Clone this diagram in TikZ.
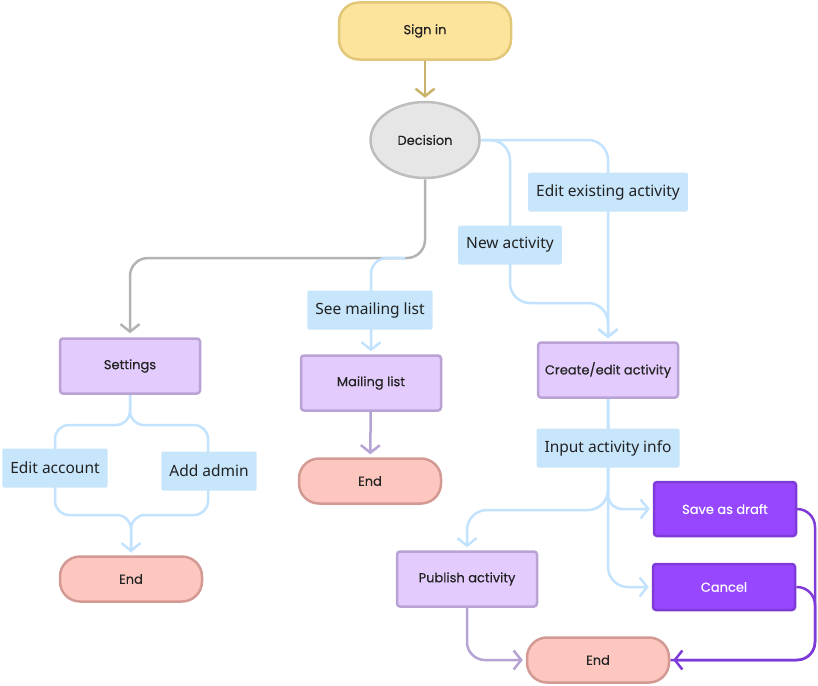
\documentclass[tikz,border=0pt]{standalone}
\usepackage{fontspec}
\setmainfont{Poppins}[FakeBold=0.35]
\newfontfamily\lblfont{Noto Sans}
\usetikzlibrary{arrows.meta,backgrounds,shapes.geometric}

\begin{document}
\begin{tikzpicture}[x=1pt,y=-1pt,>={Straight Barb[length=7.5pt,width=19pt,line width=2.5pt]}]

% colors
\definecolor{cYellow}{HTML}{FCE49C}
\definecolor{cYellowB}{HTML}{E2C778}
\definecolor{cTan}{HTML}{C9B46C}
\definecolor{cGrey}{HTML}{E6E6E6}
\definecolor{cGreyB}{HTML}{BDBDBD}
\definecolor{cGreyL}{HTML}{B3B3B3}
\definecolor{cLav}{HTML}{E3CCFD}
\definecolor{cLavB}{HTML}{B9A2D4}
\definecolor{cLavL}{HTML}{B5A3D3}
\definecolor{cPink}{HTML}{FDC7BF}
\definecolor{cPinkB}{HTML}{D29A93}
\definecolor{cBlue}{HTML}{C7E5FB}
\definecolor{cBlueL}{HTML}{C2E2FD}
\definecolor{cPurple}{HTML}{9747FF}
\definecolor{cPurpleB}{HTML}{7E3BD8}
\definecolor{cText}{HTML}{222222}

\tikzset{
  base/.style={line width=2.5pt,text=cText,inner sep=0pt,font=\fontsize{13}{15}\selectfont},
  pill/.style={base,draw=cPinkB,fill=cPink,rounded corners=20pt,minimum width=142pt,minimum height=45pt},
  startbox/.style={pill,draw=cYellowB,fill=cYellow,minimum width=172pt,minimum height=57pt},
  decbox/.style={base,ellipse,draw=cGreyB,fill=cGrey,minimum width=109pt,minimum height=76pt},
  procbox/.style={base,draw=cLavB,fill=cLav,rounded corners=3pt,minimum width=140pt,minimum height=55pt},
  actbox/.style={base,draw=cPurpleB,fill=cPurple,text=white,rounded corners=3pt,minimum width=142pt,minimum height=54pt},
  lbl/.style={fill=cBlue,rounded corners=2pt,text=cText,inner xsep=8pt,minimum height=39pt,font=\lblfont\fontsize{15.5}{18}\selectfont},
  link/.style={line width=2.5pt,rounded corners=16pt},
  lnBlue/.style={link,draw=cBlueL,shorten >=3pt},
}

\useasboundingbox (0,0) rectangle (818,685);

% main shapes
\node[startbox] (signin) at (425,31) {Sign in};
\node[decbox] (decision) at (425,140) {Decision};
\node[procbox] (settings) at (130,366) {Settings};
\node[procbox] (mailing) at (371,383) {Mailing list};
\node[procbox] (createedit) at (608,370) {Create/edit activity};
\node[procbox] (publish) at (467,579) {Publish activity};
\node[actbox] (draft) at (725,509) {Save as draft};
\node[actbox,minimum height=46pt] (cancel) at (724,587) {Cancel};
\node[pill] (end1) at (131,579) {End};
\node[pill] (end2) at (370,481) {End};
\node[pill] (end3) at (598,660) {End};

\coordinate (mailsplit) at (405,258);
\coordinate (split) at (608,510);
\coordinate (rail) at (815,0);

% connectors
\begin{scope}[on background layer]
\draw[link,draw=cTan,->,shorten >=3pt] (signin) -- (decision);
\draw[link,draw=cGreyL,->,shorten >=4pt,rounded corners=18pt] (decision.south) -- (decision.south |- mailsplit) -| (settings.north);
\draw[lnBlue,->] (mailsplit) -| (mailing.north);
\draw[lnBlue,->,rounded corners=14pt] (settings.south) |- (55,425) -- (55,515) -| (end1.north);
\draw[lnBlue,rounded corners=14pt] (settings.south) |- (208,425) -- (208,515) -| (end1.north);
\draw[lnBlue,->,rounded corners=20pt] (decision.east) -| (createedit.north);
\draw[lnBlue,->,rounded corners=20pt] (decision.east) -| (510,303) -| (createedit.north);
\draw[lnBlue,->,rounded corners=20pt] (createedit.south) -- (split) -| (publish.north);
\draw[lnBlue,->,rounded corners=14pt] (createedit.south) |- (draft.west);
\draw[lnBlue,->,rounded corners=20pt] (createedit.south) |- (cancel.west);
\draw[link,draw=cLavL,->,shorten >=3pt] (mailing) -- (end2);
\draw[link,draw=cLavL,->,shorten >=3pt,rounded corners=18pt] (publish.south) |- (end3.west);
\draw[link,draw=cPurpleB,->,shorten >=3pt,rounded corners=18pt] (draft.east) -| (rail |- end3) -- (end3.east);
\draw[link,draw=cPurpleB,rounded corners=18pt] (cancel.east) -| (rail |- end3) -- (end3.east);
\end{scope}

% edge labels
\node[lbl] (lblacct) at (55,468) {Edit account};
\node[lbl] (lbladmin) at (209,471) {Add admin};
\node[lbl] (lblmail) at (370,310) {See mailing list};
\node[lbl] (lblnew) at (510,245) {New activity};
\node[lbl] (lbledit) at (608,192) {Edit existing activity};
\node[lbl] (lblinput) at (608,448) {Input activity info};

\end{tikzpicture}
\end{document}
